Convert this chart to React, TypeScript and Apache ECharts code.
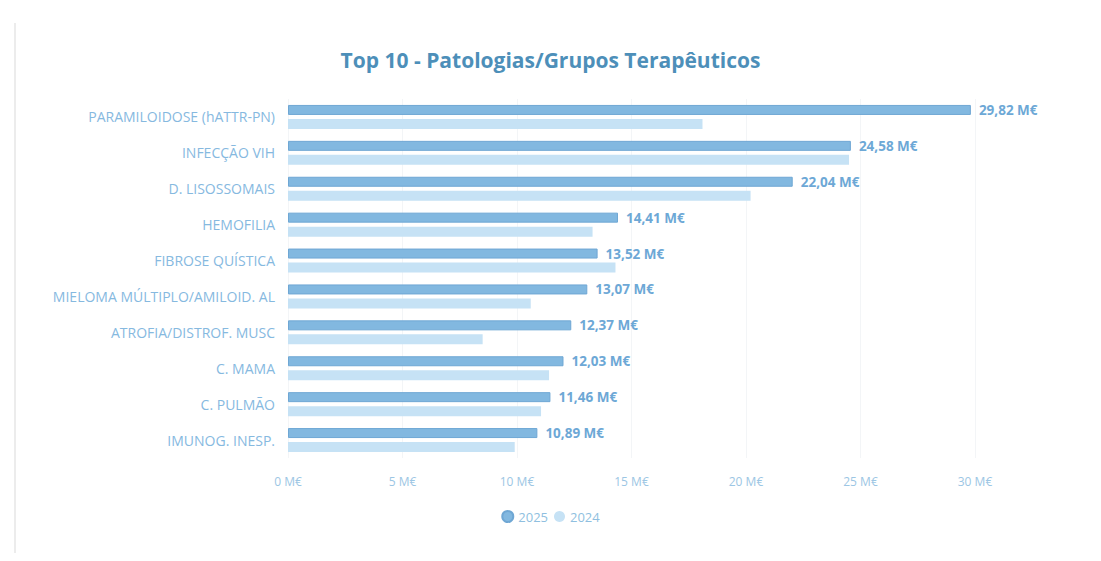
import React, { useEffect, useRef } from "react";
import * as echarts from "echarts";

const categories = [
  "PARAMILOIDOSE (hATTR-PN)",
  "INFECÇÃO VIH",
  "D. LISOSSOMAIS",
  "HEMOFILIA",
  "FIBROSE QUÍSTICA",
  "MIELOMA MÚLTIPLO/AMILOID. AL",
  "ATROFIA/DISTROF. MUSC",
  "C. MAMA",
  "C. PULMÃO",
  "IMUNOG. INESP.",
];
const values2025 = [29.82, 24.58, 22.04, 14.41, 13.52, 13.07, 12.37, 12.03, 11.46, 10.89];
const values2024 = [18.1, 24.5, 20.2, 13.3, 14.3, 10.6, 8.5, 11.4, 11.05, 9.9];
const xTicks = [0, 5, 10, 15, 20, 25, 30];

const FONT = "Open Sans";

export default function App() {
  const ref = useRef<HTMLDivElement>(null);
  useEffect(() => {
    if (!ref.current) return;
    const chart = echarts.init(ref.current, null, { renderer: "svg" });
    chart.setOption({
      animation: false,
      backgroundColor: "#ffffff",
      title: {
        text: "Top 10 - Patologias/Grupos Terapêuticos",
        left: "center",
        top: 36,
        textStyle: { fontFamily: FONT, fontSize: 21, fontWeight: "bold", color: "#4d8fb9" },
      },
      legend: {
        bottom: 25,
        left: "center",
        icon: "circle",
        itemWidth: 11,
        itemHeight: 11,
        itemGap: 6,
        textStyle: { fontFamily: FONT, fontSize: 13, color: "#8fbfe0" },
        data: ["2025", "2024"],
      },
      grid: { left: 280, right: 118, top: 91, bottom: 95, containLabel: false },
      xAxis: {
        type: "value",
        min: xTicks[0],
        max: xTicks[xTicks.length - 1],
        interval: 5,
        axisLine: { show: false },
        axisTick: { show: false },
        splitLine: { show: true, lineStyle: { color: "#f3f5f7" } },
        axisLabel: {
          fontFamily: FONT,
          fontSize: 12,
          color: "#9cc6e4",
          margin: 17,
          formatter: (v: number) => `${v} M€`,
        },
      },
      yAxis: {
        type: "category",
        data: categories,
        inverse: true,
        axisLine: { show: false },
        axisTick: { show: false },
        axisLabel: { fontFamily: FONT, fontSize: 14, color: "#86b9df", margin: 13 },
      },
      series: [
        {
          name: "2025",
          type: "bar",
          data: values2025,
          barWidth: 10,
          barGap: "40%",
          itemStyle: { color: "#82b8e0", borderColor: "#6fa7d4", borderWidth: 1 },
          label: {
            show: true,
            position: "right",
            distance: 8,
            fontFamily: FONT,
            fontSize: 13.5,
            fontWeight: "bold",
            color: "#6da8d6",
            formatter: (p: any) => `${p.value.toFixed(2).replace(".", ",")} M€`,
          },
        },
        {
          name: "2024",
          type: "bar",
          data: values2024,
          barWidth: 10,
          itemStyle: { color: "#c6e2f5" },
        },
      ],
      graphic: [
        {
          type: "line",
          shape: { x1: 7, y1: 15, x2: 7, y2: 545 },
          style: { stroke: "#ececec", lineWidth: 2 },
        },
      ],
    });
    return () => chart.dispose();
  }, []);
  return <div ref={ref} style={{ width: 1085, height: 545 }} />;
}
